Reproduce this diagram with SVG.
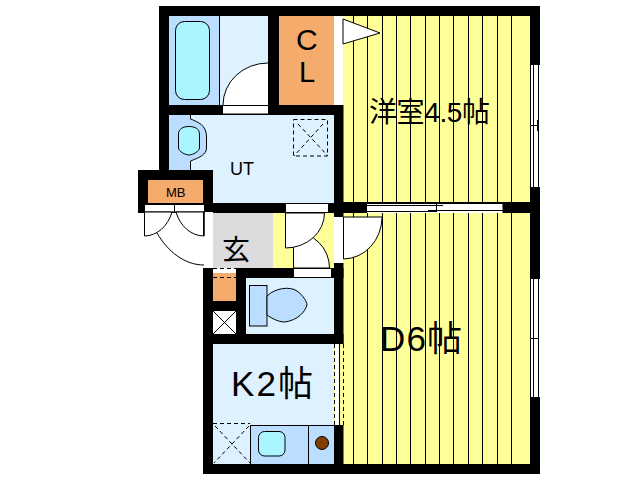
<svg xmlns="http://www.w3.org/2000/svg" width="638" height="480" viewBox="0 0 638 480">
<style>
.y{fill:#FFFF99}.r{fill:#DDF1FF}.b{fill:#BBDDFF}.o{fill:#F4AB6B}.c{fill:#AAF5FF}
.w{fill:#fff}.k{fill:#000}
.l{stroke:#000;stroke-width:1;fill:none}
.s{stroke:#000;stroke-width:1;fill:#fff}
.f{stroke:#000;stroke-width:1}
.d{stroke:#000;stroke-width:1;fill:none;stroke-dasharray:4 3}
text{font-family:"Liberation Sans","Noto Sans CJK JP",sans-serif;fill:#000}
</style>
<rect width="638" height="480" fill="#fff"/>
<g id="rooms">
<rect class="y" x="343" y="16" width="187" height="186"/>
<rect class="y" x="343" y="213" width="187" height="251"/>
<rect class="r" x="219" y="16" width="49" height="89"/>
<rect class="b" x="169" y="16" width="50" height="89"/>
<rect class="o" x="279" y="16" width="55" height="89"/>
<rect class="r" x="169" y="115" width="165" height="55"/>
<rect class="r" x="213" y="170" width="121" height="33"/>
<rect class="o" x="148" y="180" width="55" height="23"/>
<rect x="213" y="213" width="60" height="55" fill="#DCDCDE"/>
<rect class="y" x="273" y="213" width="61" height="55"/>
<rect class="w" x="213" y="268" width="23" height="5"/>
<rect class="o" x="213" y="273" width="23" height="28"/>
<rect class="w" x="213" y="311" width="23" height="23"/>
<rect class="r" x="246" y="278" width="88" height="56"/>
<rect class="r" x="213" y="344" width="121" height="120"/>
<rect class="b" x="250" y="425" width="84" height="39"/>
<rect class="y" x="334" y="344" width="10" height="81"/>
<rect class="w" x="335" y="344" width="4" height="81"/>
</g>
<g id="floor-lines" class="l">
<path d="M353.500 16V202M367.500 16V202M382.500 16V202M396.500 16V202M410.500 16V202M425.500 16V202M439.500 16V202M453.500 16V202M468.500 16V202M482.500 16V202M497.500 16V202M511.500 16V202"/>
<path d="M353.500 213V464M367.500 213V464M382.500 213V464M396.500 213V464M410.500 213V464M425.500 213V464M439.500 213V464M453.500 213V464M468.500 213V464M482.500 213V464M497.500 213V464M511.500 213V464"/>
</g>
<g id="walls" class="k">
<rect x="159" y="6" width="381" height="10"/>
<rect x="159" y="6" width="10" height="164"/>
<rect x="530" y="6" width="10" height="468"/>
<rect x="268" y="16" width="11" height="99"/>
<rect x="159" y="105" width="175" height="10"/>
<rect x="334" y="105" width="9.500" height="112"/>
<rect x="334" y="202" width="206" height="11"/>
<rect x="138" y="170" width="75" height="10"/>
<rect x="138" y="170" width="10" height="43"/>
<rect x="203" y="170" width="10" height="43"/>
<rect x="138" y="203" width="75" height="10"/>
<rect x="213" y="203" width="121" height="10"/>
<rect x="334" y="263" width="9.500" height="81"/>
<rect x="236" y="268" width="107.500" height="10"/>
<rect x="203" y="268" width="10" height="206"/>
<rect x="236" y="268" width="10" height="76"/>
<rect x="213" y="301" width="23" height="10"/>
<rect x="213" y="334" width="130.500" height="10"/>
<rect x="334" y="425" width="9.500" height="39"/>
<rect x="203" y="464" width="337" height="10"/>
</g>
<g id="openings">
<rect class="w" x="334" y="18" width="9" height="87"/>
<rect class="w" x="334" y="217" width="9" height="46"/>
<rect class="w" x="204" y="212" width="9" height="56"/>
<rect class="s" x="222.500" y="105.500" width="46" height="8.500"/>
<rect class="s" x="144.500" y="204.500" width="60" height="7.500"/>
<path class="l" d="M174.500 204V212"/>
<rect class="s" x="285.500" y="203.500" width="43" height="9"/>
<rect class="s" x="293.500" y="268.500" width="38" height="9"/>
<path class="s" d="M343 19L380 33L343 44Z"/>
</g>
<g id="bath">
<rect class="c f" x="175.500" y="21.500" width="34" height="78" rx="9"/>
<path class="l" d="M219.500 16V105"/>
<path class="w" d="M223 105A45 42 0 0 1 268 63V105Z"/>
<path class="l" d="M223 105A45 42 0 0 1 268 63"/>
</g>
<g id="utility">
<path class="b" d="M169 115H190V119C198 122 207 125 207 137V148C207 155 198 158 190 161V170H169Z"/>
<path class="l" d="M190.500 115V119C198 122 206.500 125 206.500 137V148C206.500 155 198 158 190.500 161V170"/>
<path class="c f" d="M178.500 134C178.500 129 183 126.500 189 126.500C195 126.500 199.500 129 199.500 134V148C199.500 151 193 155 189 155C185 155 178.500 151 178.500 148Z"/>
<rect class="d" x="293.500" y="119.500" width="34" height="36.500" stroke-dasharray="3 2"/>
<path class="d" d="M298 124L328 156M323 124L294 156" stroke-dasharray="6 6"/>
</g>
<g id="doors">
<path class="s" d="M144.500 212V236C157 236 168 226 172 212Z"/>
<path class="s" d="M204 212V236C191 236 180 226 176 212Z"/>
<path class="l" d="M157 233C168 252 185 265 204 265"/>
<path class="k" d="M203 212h1.500v24h-1.500z"/>
<path class="s" d="M293.500 268V232A36 36 0 0 1 329.500 268Z"/>
<path class="s" d="M285.500 213V248A39 35 0 0 0 324.500 213Z"/>
<path class="s" d="M343.500 217H382V218A39 42 0 0 1 343.500 259Z"/>
</g>
<g id="toilet">
<rect class="b f" x="249.500" y="285.500" width="17.500" height="40.500"/>
<path class="b f" d="M267 296C275 288 290 286 297 291C303 295 307 302 307 305C305 312 298 320 285 322C277 322 270 317 267 315Z"/>
</g>
<g id="closet">
<path class="d" d="M213 268.500H236M213 277.500H236"/>
<path class="l" d="M213 311L236 334M236 311L213 334"/>
</g>
<g id="kitchen">
<path class="d" d="M334.500 344V425M343.500 344V425"/>
<path class="l" d="M339.500 344V425"/>
<path class="d" d="M213 423.500H250"/>
<path class="d" d="M215 426L250 463M249 426L214 463" stroke-dasharray="6 6"/>
<path class="l" d="M250.500 425V464M250 425.500H334M308.500 425V464"/>
<rect class="c f" x="258.500" y="431.500" width="26.500" height="24.500" rx="6"/>
<circle cx="322" cy="443" r="6.500" fill="#7F3F00" stroke="#000"/>
</g>
<g id="windows">
<rect class="w" x="531" y="65" width="9" height="122"/>
<path class="l" d="M533.500 65V187M538.500 65V187M531 125.500H539M537.500 120V131"/>
<rect class="w" x="531" y="279" width="9" height="118"/>
<path class="l" d="M533.500 279V397M538.500 279V397M531 338.500H539M533.500 332V350"/>
<rect class="w" x="367" y="203" width="136" height="10"/>
<path class="l" d="M367 205.500H443M428 210.500H503M367 211.500H436M436.500 203V212M367 203.500H503M503 203V213"/>
</g>
<g id="labels">
<text x="296" y="50" font-size="30">C</text>
<text x="299" y="82" font-size="29">L</text>
<text x="230" y="175" font-size="18" font-weight="400">UT</text>
<text x="166" y="197" font-size="13">MB</text>
<text x="222" y="260" font-size="28">玄</text>
<text x="369" y="122" font-size="28" textLength="121">洋室4.5帖</text>
<text x="380" y="351" font-size="35" textLength="82">D6帖</text>
<text x="231" y="396" font-size="35" textLength="82">K2帖</text>
</g>
</svg>
